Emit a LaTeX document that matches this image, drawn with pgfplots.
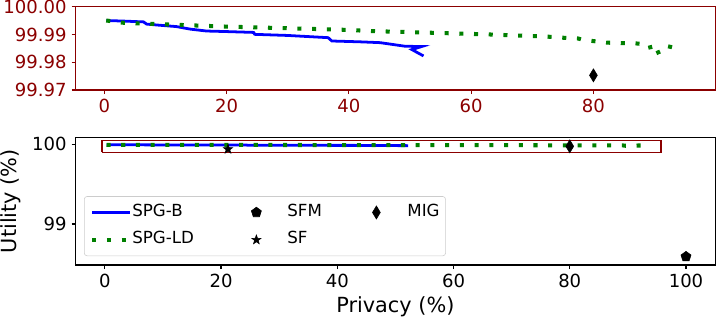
\documentclass[border=0pt]{standalone}
\usepackage{fontspec}
\setmainfont{DejaVu Sans}
\usepackage{pgfplots}
\pgfplotsset{compat=1.18}
\definecolor{darkred}{HTML}{8B0000}
\definecolor{mplgreen}{HTML}{008000}
\pgfdeclareplotmark{thindiamond}{%
  \pgfpathmoveto{\pgfpoint{0pt}{\pgfplotmarksize}}%
  \pgfpathlineto{\pgfpoint{0.6\pgfplotmarksize}{0pt}}%
  \pgfpathlineto{\pgfpoint{0pt}{-\pgfplotmarksize}}%
  \pgfpathlineto{\pgfpoint{-0.6\pgfplotmarksize}{0pt}}%
  \pgfpathclose\pgfusepathqfillstroke}
\pgfdeclareplotmark{fpentagon}{%
  \pgfpathmoveto{\pgfpointpolar{90}{\pgfplotmarksize}}%
  \pgfpathlineto{\pgfpointpolar{162}{\pgfplotmarksize}}%
  \pgfpathlineto{\pgfpointpolar{234}{\pgfplotmarksize}}%
  \pgfpathlineto{\pgfpointpolar{306}{\pgfplotmarksize}}%
  \pgfpathlineto{\pgfpointpolar{18}{\pgfplotmarksize}}%
  \pgfpathclose\pgfusepathqfillstroke}
\pgfdeclareplotmark{fstar}{%
  \pgfpathmoveto{\pgfpointpolar{90}{\pgfplotmarksize}}%
  \pgfpathlineto{\pgfpointpolar{126}{0.4\pgfplotmarksize}}%
  \pgfpathlineto{\pgfpointpolar{162}{\pgfplotmarksize}}%
  \pgfpathlineto{\pgfpointpolar{198}{0.4\pgfplotmarksize}}%
  \pgfpathlineto{\pgfpointpolar{234}{\pgfplotmarksize}}%
  \pgfpathlineto{\pgfpointpolar{270}{0.4\pgfplotmarksize}}%
  \pgfpathlineto{\pgfpointpolar{306}{\pgfplotmarksize}}%
  \pgfpathlineto{\pgfpointpolar{342}{0.4\pgfplotmarksize}}%
  \pgfpathlineto{\pgfpointpolar{18}{\pgfplotmarksize}}%
  \pgfpathlineto{\pgfpointpolar{54}{0.4\pgfplotmarksize}}%
  \pgfpathclose\pgfusepathqfillstroke}

\pgfplotstableread{
x y
0.3 99.9951
3.0 99.9949
6.4 99.9946
6.9 99.9938
9.0 99.9934
11.8 99.9929
14.0 99.9920
16.7 99.9913
20.0 99.9911
24.4 99.9908
24.6 99.9901
30.0 99.9897
36.6 99.9889
37.2 99.9877
41.8 99.9874
45.1 99.9871
49.2 99.9858
51.9 99.9857
50.3 99.9846
52.2 99.9823
}\spgb

\pgfplotstableread{
x y
0.3 99.9951
3.0 99.9943
7.4 99.9939
20.0 99.9929
30.0 99.9923
40.0 99.9917
43.4 99.9913
50.0 99.9909
62.5 99.9901
72.3 99.9893
76.2 99.9887
77.5 99.9886
78.3 99.9881
82.2 99.9871
85.0 99.9869
87.1 99.9868
89.2 99.9863
89.6 99.9826
91.0 99.9840
91.8 99.9860
93.5 99.9851
94.0 99.9857
}\spgld

\pgfplotsset{
  common/.style={
    scale only axis, width=460.3pt,
    tick align=outside, major tick length=3pt, tick pos=left,
    axis line style={line width=0.8pt},
    every tick/.style={line width=0.8pt},
    ticklabel style={font=\fontsize{13}{15}\selectfont},
    /pgf/number format/assume math mode=true,
    legend image code/.code={\draw[##1] (0pt,0pt) -- (27.4pt,0pt);},
  },
  mleg/.style={legend image code/.code={\path[draw=none,fill=none] (0pt,-1pt) rectangle (36pt,1pt); \draw[##1, only marks] plot coordinates {(13.7pt,0pt)};}},
  spgb/.style={blue, line width=2pt, no marks},
  spgld/.style={mplgreen, line width=2.9pt, line cap=butt, dash pattern=on 2.9pt off 7.7pt, no marks},
}

\begin{document}
\begin{tikzpicture}
% bottom axis
\begin{axis}[common,
  at={(0,0)}, anchor=south west, height=91.9pt,
  xmin=-5, xmax=105, ymin=98.485, ymax=100.088,
  xtick={0,20,40,60,80,100}, ytick={99,100},
  xlabel={Privacy (\%)}, ylabel={Utility (\%)},
  label style={font=\fontsize{15}{18}\selectfont, inner sep=0pt},
  xlabel style={at={(axis description cs:0.5,-0.245)}, anchor=north},
  ylabel style={at={(axis description cs:-0.085,0.5)}, anchor=south},
  legend cell align=left,
  legend style={at={(0.013,0.07)}, anchor=south west, legend columns=3,
    draw=black!20, rounded corners=2pt, fill=white,
    font=\fontsize{12}{14}\selectfont, inner xsep=4.3pt, inner ysep=6pt,
    row sep=8.7pt,
    nodes={inner sep=0pt, text height=8.5pt, text depth=2.5pt}},
]
\addplot[darkred, line width=1pt, forget plot] coordinates {(-0.5,99.9) (95.7,99.9) (95.7,100.045) (-0.5,100.045) (-0.5,99.9)};
\addplot[spgb] table {\spgb};
\addlegendentry{\makebox[75.6pt][l]{SPG-B}}
\addplot[only marks, mleg, mark=fpentagon, mark size=3.8pt, black] coordinates {(100,98.59)};
\addlegendentry{\makebox[50.4pt][l]{SFM}}
\addplot[only marks, mleg, mark=thindiamond, mark size=4.7pt, black] coordinates {(80,99.9753)};
\addlegendentry{MIG}
\addplot[spgld] table {\spgld};
\addlegendentry{\makebox[75.6pt][l]{SPG-LD}}
\addplot[only marks, mleg, mark=fstar, mark size=3.5pt, black] coordinates {(21.2,99.94)};
\addlegendentry{\makebox[50.4pt][l]{SF}}
\end{axis}
% top axis
\begin{axis}[common,
  at={(0,126pt)}, anchor=south west, height=59.8pt,
  xmin=-4.7, xmax=99.9, ymin=99.97, ymax=100.0,
  xtick={0,20,40,60,80}, ytick={99.97,99.98,99.99,100},
  yticklabel style={/pgf/number format/.cd, fixed, fixed zerofill, precision=2},
  axis line style={darkred}, every tick/.append style={darkred},
  ticklabel style={text=darkred},
]
\addplot[spgb] table {\spgb};
\addplot[spgld] table {\spgld};
\addplot[only marks, mark=thindiamond, mark size=4.7pt, black] coordinates {(80,99.9753)};
\end{axis}
\pgfresetboundingbox
\path[use as bounding box] (-54.5pt,-38.9pt) rectangle (461.7pt,190.8pt);
\end{tikzpicture}
\end{document}
